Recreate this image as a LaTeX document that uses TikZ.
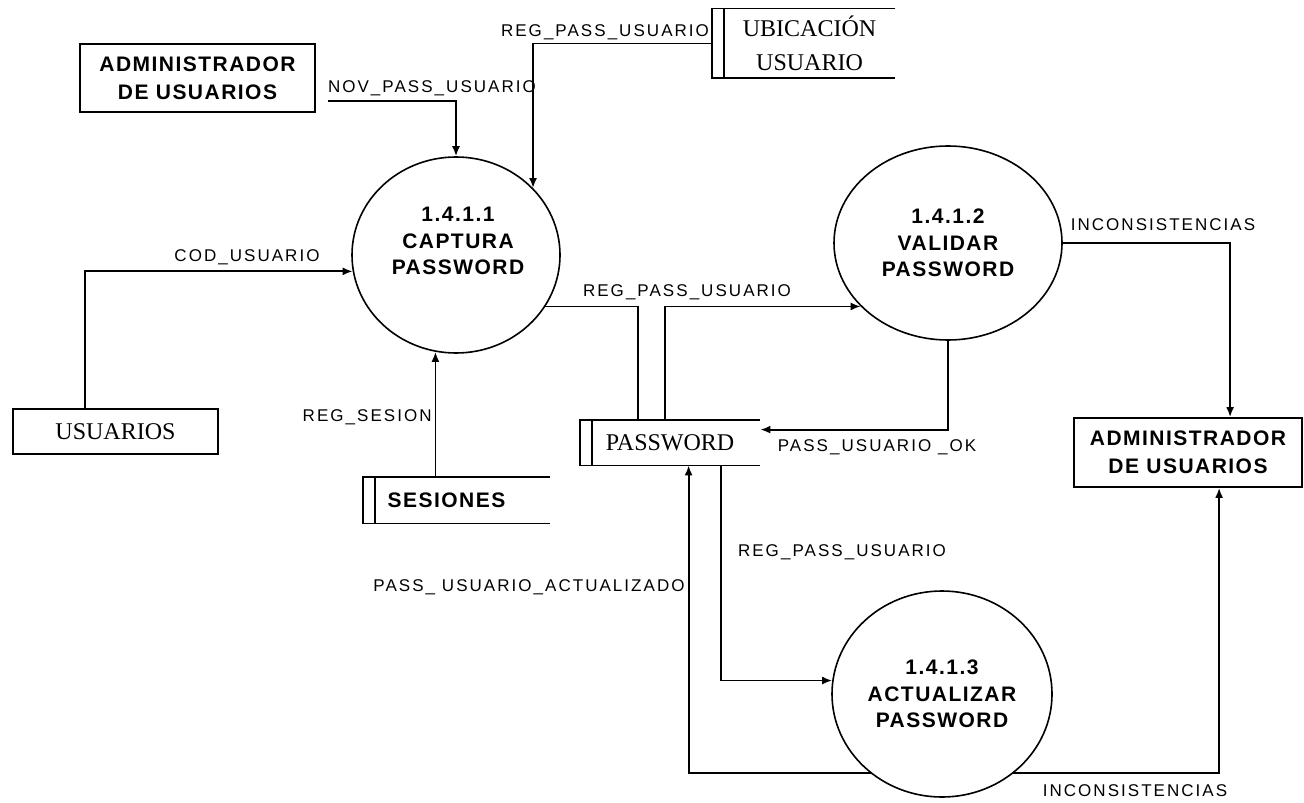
\documentclass[tikz,border=0pt]{standalone}
\usepackage{fontspec}
\setmainfont{Liberation Serif}
\newfontfamily\lblfont{Liberation Sans}[LetterSpace=12]
\newfontfamily\boldfont{Liberation Sans}[LetterSpace=7]
\usetikzlibrary{shapes.geometric,arrows.meta,calc}
\tikzset{
  flow/.style={line width=0.9pt,-{Latex[length=5pt,width=4pt]}},
  plainline/.style={line width=0.9pt},
  lbl/.style={font=\lblfont\fontsize{8.5pt}{10pt}\selectfont,inner sep=0pt},
  proc/.style={ellipse,draw,line width=0.8pt,inner sep=0pt,align=center,fill=white,
    font=\boldfont\bfseries\fontsize{10.5pt}{13.3pt}\selectfont},
  proctext/.style={inner sep=0pt,align=center,font=\boldfont\bfseries\fontsize{10.5pt}{13.3pt}\selectfont},
  ent/.style={rectangle,draw,line width=0.9pt,align=center,inner sep=0pt,
    font=\boldfont\bfseries\fontsize{10.5pt}{14pt}\selectfont},
  storebox/.style={rectangle,inner sep=0pt,align=center},
  seriftext/.style={font=\fontsize{12pt}{17pt}\selectfont},
}
\newcommand\storeoutline[1]{%
  \draw[plainline] (#1.north east) -- (#1.north west) -- (#1.south west) -- (#1.south east);
  \draw[plainline] ([xshift=6pt]#1.north west) -- ([xshift=6pt]#1.south west);}
\begin{document}
\begin{tikzpicture}[x=0.5pt,y=-0.5pt]
\useasboundingbox[fill=white] (0,0) rectangle (1304,802);

% processes
\node[proc,minimum width=104pt,minimum height=98pt] (c1) at (456,255) {};
\node[proctext] (c1t) at (458,241) {1.4.1.1\\CAPTURA\\PASSWORD};
\node[proc,minimum width=114pt,minimum height=97pt] (c2) at (948,243) {1.4.1.2\\VALIDAR\\PASSWORD};
\node[proc,minimum width=110pt,minimum height=103pt] (c3) at (942,694) {1.4.1.3\\ACTUALIZAR\\PASSWORD};

% external entities
\node[ent,minimum width=117.5pt,minimum height=34pt] (adm1) at (197.5,78) {ADMINISTRADOR\\DE USUARIOS};
\node[ent,minimum width=114pt,minimum height=34.5pt] (adm2) at (1188,452.5) {ADMINISTRADOR\\DE USUARIOS};
\node[rectangle,draw,line width=0.9pt,inner sep=0pt,minimum width=102.5pt,minimum height=22.5pt,seriftext] (usu) at (115.5,431.5) {USUARIOS};

% data stores
\node[storebox,minimum width=90pt,minimum height=22.5pt,seriftext] (pw) at (670,442.5) {PASSWORD};
\storeoutline{pw}
\node[storebox,minimum width=93.5pt,minimum height=23pt,font=\boldfont\bfseries\fontsize{10.5pt}{13pt}\selectfont] (ses) at (456.5,500) {\hspace*{-10pt}SESIONES};
\storeoutline{ses}
\node[storebox,minimum width=91.5pt,minimum height=34.5pt,seriftext] (ubic) at (803.5,43.5) {\hspace*{6pt}UBICACIÓN\\\hspace*{6pt}USUARIO};
\storeoutline{ubic}

% flows
\draw[flow] ($(adm1.east)+(12,23)$) -| (c1.north);
\draw[flow] (ubic.west) -| (c1.41);
\draw[flow] ($(usu.north west)+(73,0)$) |- (c1.189);
\draw[flow] (c1.258 |- ses.north) -- (c1.258);
\draw[plainline] (c1.-30) -| ($(pw.north west)+(58,0)$);
\draw[flow] ($(pw.north west)+(85,0)$) |- (c2.216);
\draw[flow] (c2.south) |- ($(pw.north east)+(0,10)$);
\draw[flow] (c2.east) -| ($(adm2.north west)+(157,0)$);
\draw[flow] ($(pw.south west)+(141,0)$) |- (c3.173);
\draw[flow] (c3.228) -| ($(pw.south west)+(109,0)$);
\draw[flow] (c3.-48) -| ($(adm2.south west)+(146,0)$);

% labels
\node[lbl] (l1) at (432,88) {NOV\_PASS\_USUARIO};
\node[lbl] (l2) at (605,32) {REG\_PASS\_USUARIO};
\node[lbl] (l3) at (247,257) {COD\_USUARIO};
\node[lbl,anchor=east] (l4) at (432,417) {REG\_SESION};
\node[lbl] (l5) at (687,292) {REG\_PASS\_USUARIO};
\node[lbl] (l6) at (877,447) {PASS\_USUARIO \_OK};
\node[lbl] (l7) at (1163,225) {INCONSISTENCIAS};
\node[lbl] (l8) at (842,552) {REG\_PASS\_USUARIO};
\node[lbl,anchor=east] (l9) at (685,587) {PASS\_ USUARIO\_ACTUALIZADO};
\node[lbl] (l10) at (1135,791) {INCONSISTENCIAS};
\end{tikzpicture}
\end{document}
